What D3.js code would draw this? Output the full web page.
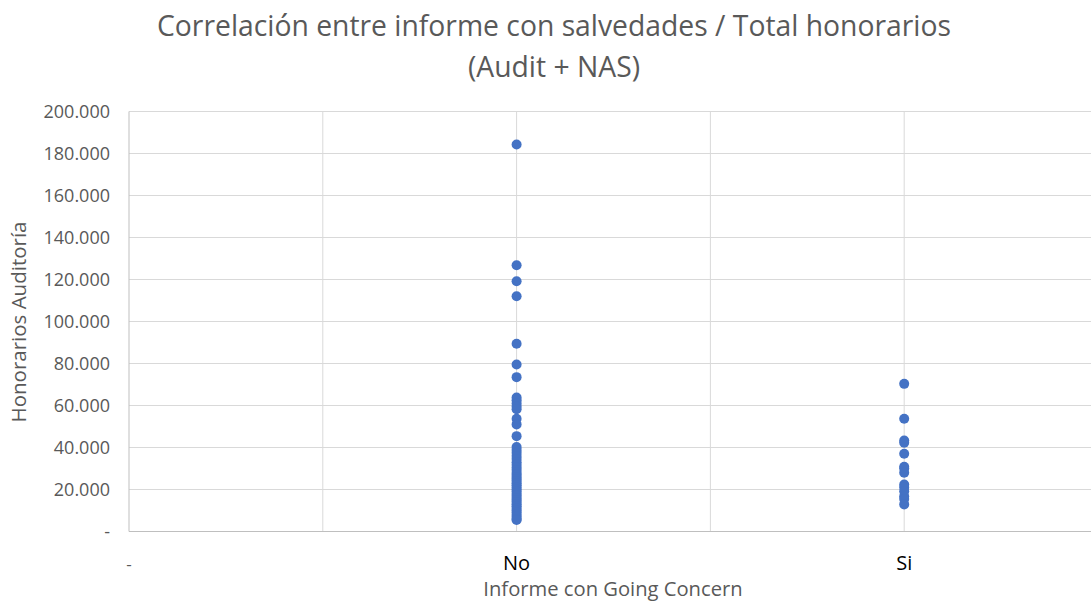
<!DOCTYPE html>
<html><head><meta charset="utf-8">
<script src="https://cdn.jsdelivr.net/npm/d3@7"></script>
<style>body{margin:0;background:#fff}</style>
</head><body>
<script>
const title = ["Correlación entre informe con salvedades / Total honorarios", "(Audit + NAS)"];
const xTitle = "Informe con Going Concern";
const yTitle = "Honorarios Auditoría";
const xTickLabels = ["-", "No", "Si"];
const yTicks = [0,20000,40000,60000,80000,100000,120000,140000,160000,180000,200000];
// x = 1 (No)
const noValues = [184300,126800,119200,112000,89400,79500,73500,63800,62500,61000,59500,58200,53700,51000,45400,
  40200,38800,37500,36000,34500,33000,31800,30500,29300,28000,27000,26000,25000,24000,23000,22000,21000,20000,
  19000,18000,17000,16000,15000,14000,13000,12000,11000,10000,9000,8000,7000,6000,5500];
// x = 2 (Si)
const siValues = [70300,53700,43300,42300,37000,30800,30000,28000,22400,21000,19200,16800,15500,12900];

const W = 1091, H = 603;
const svg = d3.select("body").append("svg").attr("width", W).attr("height", H)
  .style("font-family", "'Open Sans', sans-serif");
const x = d3.scaleLinear().domain([0, 2.5]).range([129, 1098]);
const y = d3.scaleLinear().domain([0, 200000]).range([531.5, 111.5]);
const grey = "#595959", grid = "#d9d9d9";

// horizontal gridlines
svg.append("g").selectAll("line").data(yTicks.slice(1)).join("line")
  .attr("x1", x(0)).attr("x2", x(2.5)).attr("y1", d=>y(d)).attr("y2", d=>y(d))
  .attr("stroke", grid).attr("stroke-width", 1);
// vertical gridlines
svg.append("g").selectAll("line").data([0.5,1,1.5,2,2.5]).join("line")
  .attr("x1", d=>x(d)).attr("x2", d=>x(d)).attr("y1", y(0)).attr("y2", y(200000))
  .attr("stroke", grid).attr("stroke-width", 1);
// axes lines
svg.append("line").attr("x1", x(0)).attr("x2", x(0)).attr("y1", y(0)).attr("y2", y(200000)).attr("stroke", "#bfbfbf");
svg.append("line").attr("x1", x(0)).attr("x2", x(2.5)).attr("y1", y(0)).attr("y2", y(0)).attr("stroke", "#bfbfbf");

// y tick labels
const fmt = d => d === 0 ? "-" : d3.format(",")(d).replace(/,/g, ".");
svg.append("g").selectAll("text").data(yTicks).join("text")
  .attr("x", 110).attr("y", d=>y(d)).attr("dy", "0.35em").attr("text-anchor", "end")
  .attr("fill", grey).style("font-size", "18px").text(fmt);

// x tick labels
svg.append("g").selectAll("text").data(xTickLabels).join("text")
  .attr("x", (d,i)=> i===0 ? x(0) : x(i)).attr("y", 570).attr("text-anchor", "middle")
  .attr("fill", (d,i)=> i===0 ? grey : "#000").style("font-size", (d,i)=> i===0 ? "17px" : "20px").text(d=>d);

// points
const pts = noValues.map(v=>({x:1,v})).concat(siValues.map(v=>({x:2,v})));
svg.append("g").selectAll("circle").data(pts).join("circle")
  .attr("cx", d=>x(d.x)).attr("cy", d=>y(d.v)).attr("r", 5)
  .attr("fill", "#4472c4");

// title
svg.append("text").attr("x", 554).attr("y", 36).attr("text-anchor","middle")
  .attr("fill", grey).style("font-size","28.3px").text(title[0]);
svg.append("text").attr("x", 554).attr("y", 77).attr("text-anchor","middle")
  .attr("fill", grey).style("font-size","28.3px").text(title[1]);
// axis titles
svg.append("text").attr("x", 613).attr("y", 596).attr("text-anchor","middle")
  .attr("fill", grey).style("font-size","20.2px").text(xTitle);
svg.append("text").attr("transform","translate(26,322) rotate(-90)").attr("text-anchor","middle")
  .attr("fill", grey).style("font-size","20.5px").text(yTitle);
</script>
</body></html>
